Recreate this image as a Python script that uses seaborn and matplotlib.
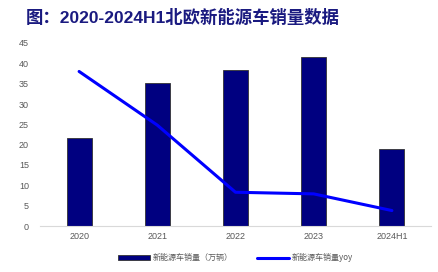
import matplotlib
matplotlib.use("Agg")
import matplotlib.pyplot as plt
import seaborn as sns
import pandas as pd

years = ["2020", "2021", "2022", "2023", "2024H1"]
sales = [21.6, 35.2, 38.4, 41.5, 18.9]
yoy = [38.0, 24.8, 8.3, 7.9, 3.8]
yticks = [0, 5, 10, 15, 20, 25, 30, 35, 40, 45]

sns.set_theme(style="white")
plt.rcParams['font.family'] = ['Liberation Sans', 'Noto Sans CJK SC', 'DejaVu Sans']

df = pd.DataFrame({"year": years, "sales": sales, "yoy": yoy})

fig = plt.figure(figsize=(4.38, 2.72), dpi=100)
ax = fig.add_axes([40/438, 1-226/272, (431-40)/438, (226-43)/272])

sns.barplot(data=df, x="year", y="sales", color="#000080", width=0.32, saturation=1,
            edgecolor="#333333", linewidth=0.6, ax=ax, label="新能源车销量（万辆）")
sns.lineplot(data=df, x="year", y="yoy", color="#0000ff", linewidth=2.2, ax=ax,
             label="新能源车销量yoy", sort=False)

ax.set_ylim(0, 45)
ax.set_yticks(yticks)
ax.set_xlim(-0.5, 4.5)
ax.set_xlabel("")
ax.set_ylabel("")
for s in ["top", "right", "left"]:
    ax.spines[s].set_visible(False)
ax.spines["bottom"].set_color("#d9d9d9")
ax.spines["bottom"].set_linewidth(0.8)
ax.tick_params(axis="both", length=0, labelsize=6.5, colors="#595959", pad=4)
ax.tick_params(axis="y", pad=8)

handles, labels = ax.get_legend_handles_labels()
order = [labels.index("新能源车销量（万辆）"), labels.index("新能源车销量yoy")]
ax.legend([handles[i] for i in order], [labels[i] for i in order],
          loc="upper center", bbox_to_anchor=(0.5, -0.11), ncol=2, frameon=False,
          prop={"family": ["Noto Sans CJK SC", "DejaVu Sans"], "size": 5.8},
          labelcolor="#595959", handlelength=4, columnspacing=3,
          handletextpad=0.3)

fig.text(26/438, 1-17/272, "图：2020-2024H1北欧新能源车销量数据", fontsize=12.5,
         fontweight="bold", color="#1a1a80", va="center", ha="left")

fig.savefig("out.png", dpi=100)
